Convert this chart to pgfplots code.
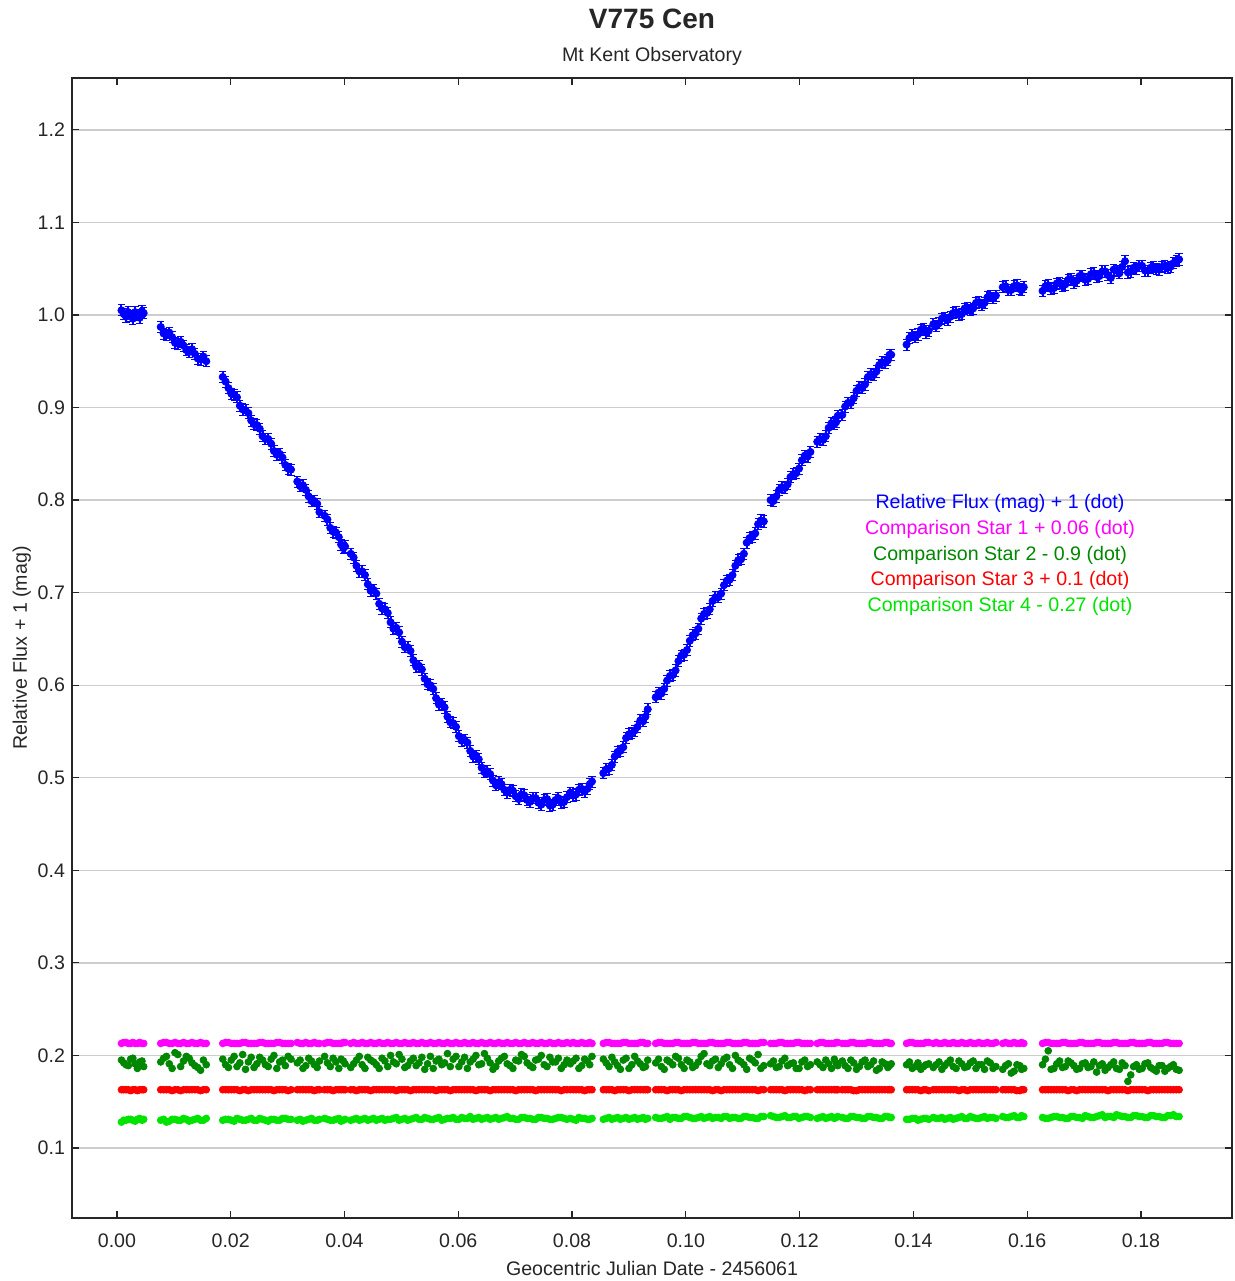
\documentclass[border=0pt]{standalone}
\usepackage{pgfplots}
\usepackage{pgfplotstable}
\usepackage{fontspec}
\setmainfont{Liberation Sans}
\pgfplotsset{compat=1.18}
\definecolor{cblue}{RGB}{0,0,255}
\definecolor{cmag}{RGB}{255,0,255}
\definecolor{cdkgreen}{RGB}{0,135,0}
\definecolor{cred}{RGB}{255,0,0}
\definecolor{cltgreen}{RGB}{0,228,0}
\definecolor{gridgray}{RGB}{205,205,205}
\pgfplotstableread{
x b c1 c2 c3 c4
0.0008 1.005 0.213 0.195 0.163 0.128
0.0016 0.998 0.214 0.190 0.163 0.130
0.0024 0.999 0.213 0.196 0.162 0.131
0.0032 1.003 0.213 0.191 0.163 0.129
0.0040 0.997 0.214 0.193 0.163 0.132
0.0047 1.002 0.213 0.188 0.163 0.131
0.0077 0.987 0.213 0.193 0.163 0.130
0.0087 0.978 0.214 0.199 0.163 0.128
0.0097 0.976 0.213 0.186 0.162 0.131
0.0107 0.969 0.213 0.201 0.163 0.130
0.0117 0.967 0.214 0.194 0.163 0.132
0.0127 0.960 0.213 0.197 0.163 0.129
0.0137 0.958 0.213 0.189 0.163 0.131
0.0147 0.952 0.214 0.184 0.162 0.130
0.0157 0.950 0.213 0.190 0.163 0.132
0.0186 0.933 0.213 0.196 0.163 0.130
0.0196 0.921 0.214 0.187 0.163 0.131
0.0206 0.914 0.213 0.199 0.163 0.129
0.0216 0.902 0.213 0.192 0.162 0.131
0.0226 0.897 0.214 0.185 0.163 0.130
0.0236 0.886 0.213 0.198 0.163 0.132
0.0246 0.881 0.213 0.191 0.163 0.130
0.0256 0.869 0.214 0.195 0.163 0.131
0.0266 0.866 0.213 0.188 0.163 0.129
0.0276 0.853 0.213 0.200 0.162 0.131
0.0286 0.850 0.214 0.193 0.163 0.130
0.0296 0.838 0.213 0.189 0.163 0.132
0.0306 0.833 0.213 0.196 0.163 0.131
0.0317 0.820 0.214 0.192 0.163 0.130
0.0327 0.816 0.213 0.186 0.163 0.129
0.0337 0.804 0.213 0.197 0.163 0.131
0.0347 0.799 0.214 0.190 0.162 0.130
0.0356 0.787 0.213 0.194 0.163 0.131
0.0365 0.783 0.213 0.199 0.163 0.132
0.0375 0.770 0.214 0.188 0.163 0.130
0.0385 0.765 0.213 0.193 0.163 0.131
0.0394 0.752 0.213 0.196 0.163 0.129
0.0401 0.750 0.214 0.191 0.163 0.131
0.0411 0.742 0.213 0.187 0.163 0.130
0.0421 0.729 0.213 0.195 0.162 0.132
0.0431 0.723 0.214 0.190 0.163 0.131
0.0441 0.709 0.213 0.198 0.163 0.130
0.0451 0.703 0.213 0.193 0.163 0.132
0.0461 0.688 0.214 0.186 0.163 0.131
0.0471 0.682 0.213 0.194 0.163 0.130
0.0481 0.668 0.213 0.200 0.163 0.131
0.0491 0.662 0.214 0.191 0.162 0.133
0.0501 0.647 0.213 0.196 0.163 0.131
0.0511 0.641 0.213 0.189 0.163 0.130
0.0521 0.627 0.214 0.197 0.163 0.132
0.0531 0.621 0.213 0.192 0.163 0.131
0.0541 0.607 0.213 0.185 0.163 0.133
0.0551 0.600 0.214 0.199 0.163 0.131
0.0561 0.586 0.213 0.194 0.162 0.132
0.0571 0.580 0.213 0.190 0.163 0.130
0.0581 0.566 0.214 0.202 0.163 0.132
0.0591 0.559 0.213 0.196 0.163 0.133
0.0601 0.545 0.213 0.188 0.163 0.131
0.0611 0.541 0.214 0.198 0.163 0.132
0.0621 0.529 0.213 0.193 0.163 0.134
0.0631 0.524 0.213 0.200 0.162 0.132
0.0641 0.511 0.214 0.191 0.163 0.131
0.0651 0.507 0.213 0.197 0.163 0.133
0.0661 0.497 0.213 0.185 0.163 0.132
0.0671 0.495 0.214 0.194 0.163 0.131
0.0681 0.487 0.213 0.199 0.163 0.133
0.0691 0.487 0.213 0.189 0.163 0.132
0.0701 0.480 0.214 0.195 0.162 0.131
0.0711 0.482 0.213 0.201 0.163 0.133
0.0721 0.476 0.213 0.192 0.163 0.132
0.0731 0.478 0.214 0.187 0.163 0.131
0.0741 0.473 0.213 0.196 0.163 0.133
0.0751 0.476 0.213 0.190 0.163 0.132
0.0761 0.470 0.214 0.198 0.163 0.131
0.0771 0.476 0.213 0.193 0.163 0.132
0.0781 0.473 0.213 0.186 0.162 0.133
0.0791 0.479 0.214 0.195 0.163 0.131
0.0797 0.484 0.213 0.191 0.163 0.132
0.0807 0.482 0.213 0.197 0.163 0.130
0.0817 0.488 0.214 0.189 0.163 0.132
0.0827 0.488 0.213 0.194 0.163 0.131
0.0835 0.496 0.213 0.199 0.163 0.132
0.0855 0.505 0.213 0.196 0.163 0.131
0.0865 0.510 0.214 0.188 0.163 0.133
0.0875 0.523 0.213 0.193 0.162 0.132
0.0885 0.529 0.213 0.185 0.163 0.131
0.0895 0.543 0.214 0.197 0.163 0.133
0.0905 0.548 0.213 0.190 0.163 0.132
0.0915 0.555 0.213 0.194 0.163 0.131
0.0925 0.561 0.214 0.187 0.163 0.133
0.0933 0.574 0.213 0.195 0.163 0.132
0.0947 0.587 0.213 0.192 0.163 0.133
0.0957 0.591 0.214 0.188 0.163 0.132
0.0967 0.605 0.213 0.195 0.162 0.134
0.0977 0.611 0.213 0.190 0.163 0.133
0.0987 0.626 0.214 0.197 0.163 0.132
0.0997 0.633 0.213 0.186 0.163 0.134
0.1007 0.648 0.213 0.193 0.163 0.133
0.1017 0.656 0.214 0.189 0.163 0.132
0.1027 0.672 0.213 0.199 0.163 0.134
0.1037 0.678 0.213 0.191 0.163 0.133
0.1047 0.691 0.214 0.194 0.162 0.132
0.1057 0.695 0.213 0.187 0.163 0.133
0.1067 0.708 0.213 0.196 0.163 0.134
0.1077 0.714 0.214 0.190 0.163 0.132
0.1087 0.729 0.213 0.200 0.163 0.133
0.1097 0.736 0.213 0.193 0.163 0.132
0.1107 0.754 0.214 0.185 0.163 0.134
0.1117 0.760 0.213 0.195 0.163 0.133
0.1127 0.774 0.213 0.201 0.162 0.132
0.1137 0.777 0.214 0.189 0.163 0.134
0.1149 0.800 0.213 0.191 0.163 0.135
0.1159 0.804 0.213 0.187 0.163 0.133
0.1169 0.814 0.214 0.194 0.163 0.134
0.1179 0.817 0.213 0.189 0.163 0.133
0.1189 0.828 0.213 0.192 0.163 0.134
0.1199 0.834 0.214 0.186 0.163 0.132
0.1209 0.848 0.213 0.195 0.162 0.134
0.1219 0.852 0.213 0.190 0.163 0.133
0.1231 0.863 0.213 0.193 0.163 0.132
0.1241 0.865 0.214 0.187 0.163 0.134
0.1251 0.878 0.213 0.191 0.163 0.133
0.1261 0.882 0.213 0.196 0.163 0.132
0.1267 0.891 0.214 0.189 0.163 0.134
0.1275 0.892 0.213 0.194 0.163 0.133
0.1285 0.905 0.213 0.186 0.163 0.132
0.1295 0.910 0.214 0.192 0.162 0.134
0.1305 0.922 0.213 0.188 0.163 0.133
0.1315 0.925 0.213 0.195 0.163 0.132
0.1325 0.936 0.214 0.190 0.163 0.134
0.1335 0.939 0.213 0.184 0.163 0.133
0.1345 0.949 0.213 0.193 0.163 0.132
0.1355 0.951 0.214 0.187 0.163 0.134
0.1361 0.957 0.213 0.191 0.163 0.133
0.1388 0.968 0.213 0.190 0.163 0.131
0.1398 0.978 0.214 0.186 0.163 0.132
0.1408 0.979 0.213 0.192 0.163 0.130
0.1418 0.985 0.213 0.188 0.163 0.132
0.1427 0.983 0.214 0.191 0.162 0.131
0.1435 0.990 0.213 0.187 0.163 0.133
0.1445 0.991 0.213 0.193 0.163 0.132
0.1455 0.997 0.214 0.189 0.163 0.131
0.1465 0.998 0.213 0.195 0.163 0.133
0.1475 1.003 0.213 0.186 0.163 0.132
0.1485 1.001 0.214 0.191 0.163 0.134
0.1495 1.008 0.213 0.188 0.162 0.132
0.1505 1.007 0.213 0.194 0.163 0.133
0.1515 1.014 0.214 0.190 0.163 0.132
0.1525 1.013 0.213 0.185 0.163 0.134
0.1535 1.021 0.213 0.192 0.163 0.133
0.1545 1.021 0.214 0.188 0.163 0.132
0.1557 1.030 0.213 0.185 0.163 0.134
0.1567 1.027 0.213 0.191 0.163 0.133
0.1577 1.031 0.214 0.183 0.163 0.135
0.1587 1.028 0.213 0.189 0.162 0.133
0.1594 1.030 0.213 0.186 0.163 0.134
0.1627 1.026 0.213 0.190 0.163 0.133
0.1637 1.032 0.214 0.205 0.163 0.132
0.1647 1.029 0.213 0.186 0.163 0.134
0.1657 1.035 0.213 0.194 0.163 0.133
0.1667 1.033 0.214 0.188 0.163 0.132
0.1677 1.039 0.213 0.192 0.163 0.134
0.1687 1.037 0.213 0.185 0.162 0.133
0.1697 1.042 0.214 0.191 0.163 0.132
0.1707 1.039 0.213 0.187 0.163 0.134
0.1717 1.045 0.213 0.193 0.163 0.133
0.1727 1.042 0.214 0.189 0.163 0.135
0.1737 1.047 0.213 0.184 0.163 0.133
0.1747 1.040 0.213 0.190 0.163 0.134
0.1757 1.048 0.214 0.186 0.163 0.136
0.1767 1.052 0.213 0.192 0.163 0.134
0.1777 1.046 0.213 0.172 0.162 0.133
0.1787 1.051 0.214 0.188 0.163 0.135
0.1797 1.053 0.213 0.185 0.163 0.134
0.1807 1.048 0.213 0.191 0.163 0.133
0.1817 1.051 0.214 0.187 0.163 0.135
0.1827 1.050 0.213 0.183 0.163 0.134
0.1837 1.052 0.213 0.189 0.163 0.133
0.1847 1.051 0.214 0.186 0.163 0.135
0.1857 1.056 0.213 0.190 0.163 0.136
0.1867 1.060 0.213 0.184 0.163 0.134
0.0012 1.001 0.214 0.192 0.163 0.130
0.0020 1.003 0.213 0.189 0.163 0.131
0.0028 0.996 0.214 0.197 0.163 0.130
0.0036 1.000 0.213 0.186 0.162 0.131
0.0044 1.004 0.213 0.194 0.163 0.130
0.0082 0.980 0.214 0.197 0.163 0.131
0.0092 0.981 0.213 0.191 0.163 0.129
0.0102 0.970 0.214 0.203 0.163 0.131
0.0112 0.971 0.213 0.188 0.162 0.130
0.0122 0.962 0.213 0.199 0.163 0.131
0.0132 0.963 0.214 0.192 0.163 0.130
0.0142 0.953 0.213 0.187 0.163 0.132
0.0152 0.955 0.213 0.195 0.163 0.130
0.0191 0.928 0.214 0.190 0.163 0.131
0.0201 0.915 0.213 0.195 0.163 0.130
0.0211 0.911 0.213 0.188 0.163 0.132
0.0221 0.898 0.214 0.201 0.163 0.130
0.0231 0.894 0.213 0.193 0.162 0.131
0.0241 0.882 0.213 0.187 0.163 0.130
0.0251 0.877 0.214 0.198 0.163 0.132
0.0261 0.866 0.213 0.190 0.163 0.130
0.0271 0.861 0.213 0.196 0.163 0.131
0.0281 0.849 0.214 0.186 0.163 0.130
0.0291 0.846 0.213 0.195 0.163 0.132
0.0301 0.834 0.213 0.199 0.162 0.131
0.0322 0.815 0.213 0.195 0.163 0.131
0.0332 0.811 0.214 0.189 0.163 0.130
0.0342 0.799 0.213 0.194 0.163 0.132
0.0352 0.796 0.213 0.187 0.163 0.130
0.0370 0.779 0.214 0.192 0.163 0.131
0.0380 0.766 0.213 0.197 0.162 0.130
0.0390 0.760 0.213 0.186 0.163 0.132
0.0398 0.748 0.214 0.194 0.163 0.130
0.0416 0.738 0.214 0.191 0.163 0.131
0.0426 0.723 0.213 0.199 0.163 0.130
0.0436 0.719 0.213 0.186 0.163 0.132
0.0446 0.702 0.214 0.195 0.162 0.131
0.0456 0.699 0.213 0.190 0.163 0.130
0.0466 0.683 0.213 0.197 0.163 0.132
0.0476 0.678 0.214 0.188 0.163 0.131
0.0486 0.661 0.213 0.193 0.163 0.132
0.0496 0.657 0.213 0.201 0.163 0.130
0.0506 0.641 0.214 0.187 0.163 0.132
0.0516 0.637 0.213 0.194 0.162 0.131
0.0526 0.620 0.213 0.189 0.163 0.133
0.0536 0.617 0.214 0.198 0.163 0.131
0.0546 0.601 0.213 0.191 0.163 0.132
0.0556 0.596 0.213 0.186 0.163 0.131
0.0566 0.579 0.214 0.196 0.163 0.133
0.0576 0.576 0.213 0.192 0.163 0.131
0.0586 0.560 0.213 0.188 0.162 0.132
0.0596 0.555 0.214 0.199 0.163 0.131
0.0606 0.540 0.213 0.193 0.163 0.133
0.0616 0.538 0.213 0.186 0.163 0.132
0.0626 0.523 0.214 0.196 0.163 0.131
0.0636 0.520 0.213 0.190 0.163 0.133
0.0646 0.506 0.213 0.202 0.163 0.132
0.0656 0.504 0.214 0.192 0.162 0.131
0.0666 0.492 0.213 0.188 0.163 0.133
0.0676 0.493 0.213 0.197 0.163 0.132
0.0686 0.484 0.214 0.191 0.163 0.134
0.0696 0.486 0.213 0.186 0.163 0.132
0.0706 0.477 0.213 0.194 0.163 0.131
0.0716 0.481 0.214 0.199 0.163 0.133
0.0726 0.474 0.213 0.189 0.163 0.132
0.0736 0.478 0.213 0.195 0.162 0.131
0.0746 0.471 0.214 0.200 0.163 0.133
0.0756 0.477 0.213 0.188 0.163 0.132
0.0766 0.471 0.213 0.193 0.163 0.131
0.0776 0.478 0.214 0.197 0.163 0.133
0.0786 0.474 0.213 0.190 0.163 0.132
0.0802 0.481 0.214 0.194 0.163 0.131
0.0812 0.487 0.213 0.186 0.163 0.133
0.0822 0.485 0.213 0.196 0.162 0.132
0.0831 0.493 0.214 0.190 0.163 0.131
0.0860 0.509 0.214 0.192 0.163 0.132
0.0870 0.514 0.213 0.198 0.163 0.131
0.0880 0.528 0.213 0.189 0.163 0.133
0.0890 0.533 0.214 0.195 0.163 0.132
0.0900 0.547 0.213 0.186 0.162 0.131
0.0910 0.551 0.213 0.199 0.163 0.133
0.0920 0.562 0.214 0.191 0.163 0.132
0.0929 0.566 0.213 0.188 0.163 0.131
0.0952 0.592 0.214 0.196 0.163 0.132
0.0962 0.596 0.213 0.185 0.163 0.133
0.0972 0.610 0.213 0.193 0.163 0.131
0.0982 0.616 0.214 0.199 0.163 0.133
0.0992 0.632 0.213 0.190 0.162 0.132
0.1002 0.638 0.213 0.195 0.163 0.134
0.1012 0.654 0.214 0.187 0.163 0.132
0.1022 0.661 0.213 0.193 0.163 0.133
0.1032 0.677 0.213 0.202 0.163 0.132
0.1042 0.682 0.214 0.189 0.163 0.134
0.1052 0.695 0.213 0.196 0.163 0.133
0.1062 0.699 0.213 0.191 0.162 0.132
0.1072 0.713 0.214 0.198 0.163 0.134
0.1082 0.719 0.213 0.186 0.163 0.133
0.1092 0.735 0.213 0.195 0.163 0.132
0.1102 0.742 0.214 0.190 0.163 0.134
0.1112 0.759 0.213 0.197 0.163 0.133
0.1122 0.764 0.213 0.192 0.163 0.132
0.1132 0.778 0.214 0.186 0.163 0.134
0.1154 0.799 0.213 0.194 0.163 0.134
0.1164 0.811 0.214 0.188 0.163 0.133
0.1174 0.813 0.213 0.197 0.162 0.135
0.1184 0.825 0.213 0.191 0.163 0.133
0.1194 0.829 0.214 0.186 0.163 0.134
0.1204 0.843 0.213 0.193 0.163 0.133
0.1214 0.847 0.213 0.188 0.163 0.134
0.1236 0.866 0.214 0.190 0.163 0.133
0.1246 0.869 0.213 0.195 0.163 0.132
0.1256 0.883 0.213 0.186 0.163 0.134
0.1264 0.884 0.214 0.192 0.163 0.133
0.1280 0.901 0.213 0.189 0.163 0.132
0.1290 0.905 0.214 0.195 0.163 0.134
0.1300 0.918 0.213 0.185 0.162 0.133
0.1310 0.921 0.213 0.193 0.163 0.132
0.1320 0.933 0.214 0.188 0.163 0.134
0.1330 0.935 0.213 0.194 0.163 0.133
0.1340 0.946 0.213 0.186 0.163 0.132
0.1350 0.948 0.214 0.191 0.163 0.134
0.1358 0.957 0.213 0.189 0.163 0.133
0.1393 0.975 0.214 0.193 0.163 0.131
0.1403 0.976 0.213 0.188 0.163 0.132
0.1413 0.984 0.213 0.185 0.162 0.131
0.1422 0.981 0.214 0.190 0.163 0.132
0.1440 0.988 0.214 0.190 0.163 0.132
0.1450 0.996 0.213 0.185 0.163 0.133
0.1460 0.995 0.213 0.192 0.163 0.132
0.1470 1.002 0.214 0.188 0.163 0.131
0.1480 1.000 0.213 0.194 0.162 0.133
0.1490 1.007 0.213 0.187 0.163 0.132
0.1500 1.005 0.214 0.192 0.163 0.134
0.1510 1.013 0.213 0.186 0.163 0.132
0.1520 1.011 0.213 0.190 0.163 0.133
0.1530 1.019 0.214 0.194 0.163 0.132
0.1540 1.018 0.213 0.186 0.163 0.133
0.1562 1.031 0.214 0.189 0.163 0.133
0.1572 1.027 0.213 0.181 0.163 0.134
0.1582 1.032 0.213 0.190 0.162 0.133
0.1590 1.027 0.214 0.185 0.163 0.135
0.1632 1.031 0.214 0.196 0.163 0.132
0.1642 1.028 0.213 0.185 0.163 0.133
0.1652 1.034 0.213 0.191 0.163 0.134
0.1662 1.031 0.214 0.187 0.163 0.133
0.1672 1.038 0.213 0.194 0.162 0.132
0.1682 1.035 0.213 0.189 0.163 0.134
0.1692 1.042 0.214 0.186 0.163 0.133
0.1702 1.038 0.213 0.192 0.163 0.135
0.1712 1.044 0.213 0.188 0.163 0.133
0.1722 1.041 0.214 0.182 0.163 0.134
0.1732 1.047 0.213 0.191 0.163 0.136
0.1742 1.043 0.213 0.187 0.162 0.134
0.1752 1.049 0.214 0.193 0.163 0.133
0.1762 1.045 0.213 0.185 0.163 0.135
0.1772 1.058 0.213 0.189 0.163 0.134
0.1782 1.047 0.214 0.179 0.163 0.133
0.1792 1.050 0.213 0.190 0.163 0.135
0.1802 1.053 0.213 0.186 0.163 0.134
0.1812 1.048 0.214 0.192 0.162 0.133
0.1822 1.052 0.213 0.185 0.163 0.135
0.1832 1.049 0.213 0.189 0.163 0.134
0.1842 1.053 0.214 0.183 0.163 0.133
0.1852 1.052 0.213 0.188 0.163 0.135
0.1862 1.058 0.213 0.185 0.163 0.134
}\data
\begin{document}
\begin{tikzpicture}
\begin{axis}[
  name=main,
  width=580pt, height=570pt, scale only axis,
  xmin=-0.0079, xmax=0.196, ymin=0.0244, ymax=1.256,
  xtick={0,0.02,0.04,0.06,0.08,0.10,0.12,0.14,0.16,0.18},
  ytick={0.1,0.2,0.3,0.4,0.5,0.6,0.7,0.8,0.9,1.0,1.1,1.2},
  tick align=inside, major tick length=3.5pt,
  tick style={black!85, line width=0.6pt},
  axis line style={black!85, line width=1pt},
  ymajorgrids, grid style={gridgray, line width=0.7pt},
  xticklabel style={/pgf/number format/.cd, fixed, fixed zerofill, precision=2, assume math mode=true, /tikz/.cd, yshift=-4.5pt},
  yticklabel style={/pgf/number format/.cd, fixed, fixed zerofill, precision=1, assume math mode=true},
  tick label style={font=\fontsize{9.8}{11}\selectfont, text=black!85},
  label style={font=\fontsize{9.8}{11}\selectfont, text=black!85},
  xlabel={Geocentric Julian Date - 2456061},
  ylabel={Relative Flux + 1 (mag)},
  ylabel shift=-3.5pt,
  title={{\fontsize{14}{16}\selectfont\bfseries V775 Cen}\\[4.5pt]{\fontsize{9.8}{11}\selectfont Mt Kent Observatory}},
  title style={at={(rel axis cs:0.5,1)}, anchor=south, yshift=-3.5pt, align=center, text=black!85},
  legend style={at={(rel axis cs:0.8,0.5814)}, anchor=center, draw=none, fill=none,
    font=\fontsize{9.8}{11}\selectfont, row sep=3.85pt,
    nodes={text height=7pt, text depth=2pt, inner sep=0pt}},
  legend cell align=center,
  every axis plot/.append style={legend image code/.code={}},
]
\addplot[only marks, mark=*, mark size=1.8pt, cblue, mark options={draw=cblue, fill=cblue},
  error bars/.cd, y dir=both, y fixed=0.006, error bar style={cblue, line width=1pt}]
  table[x=x, y=b]{\data};
\addlegendentry{\textcolor{cblue}{Relative Flux (mag) + 1 (dot)}}
\addplot[only marks, mark=*, mark size=1.7pt, cmag, mark options={draw=cmag, fill=cmag}]
  table[x=x, y=c1]{\data};
\addlegendentry{\textcolor{cmag}{Comparison Star 1 + 0.06 (dot)}}
\addplot[only marks, mark=*, mark size=1.7pt, cdkgreen, mark options={draw=cdkgreen, fill=cdkgreen}]
  table[x=x, y=c2]{\data};
\addlegendentry{\textcolor{cdkgreen}{Comparison Star 2 - 0.9 (dot)}}
\addplot[only marks, mark=*, mark size=1.7pt, cred, mark options={draw=cred, fill=cred}]
  table[x=x, y=c3]{\data};
\addlegendentry{\textcolor{cred}{Comparison Star 3 + 0.1 (dot)}}
\addplot[only marks, mark=*, mark size=1.7pt, cltgreen, mark options={draw=cltgreen, fill=cltgreen}]
  table[x=x, y=c4]{\data};
\addlegendentry{\textcolor{cltgreen}{Comparison Star 4 - 0.27 (dot)}}
\end{axis}
\pgfresetboundingbox
\path ([xshift=-36pt,yshift=-31.5pt]main.south west) rectangle ([xshift=1.5pt,yshift=39pt]main.north east);
\end{tikzpicture}
\end{document}
